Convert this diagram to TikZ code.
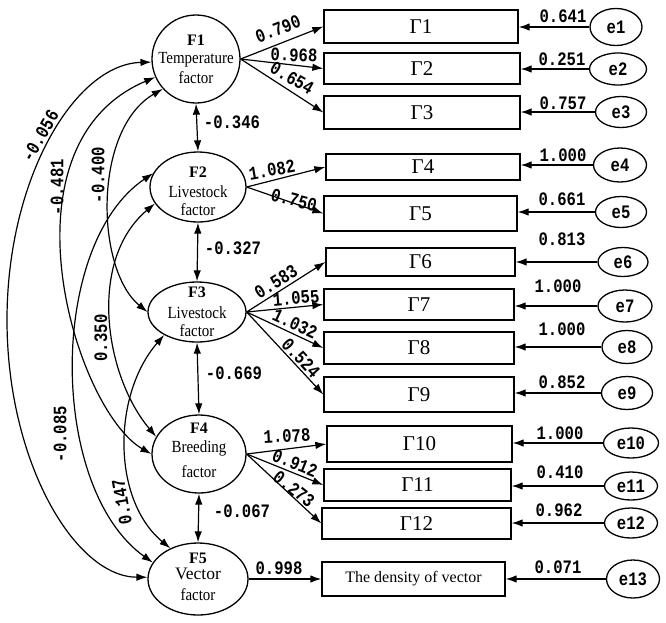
\documentclass[tikz,border=0pt]{standalone}
\usepackage{fontspec}
\setmainfont{Liberation Serif}
\newfontfamily\numfont{Liberation Mono}[FakeStretch=0.82]
\newfontfamily\condserif{Liberation Serif}[FakeStretch=0.88]
\usetikzlibrary{shapes.geometric,arrows.meta}
\begin{document}
\begin{tikzpicture}[x=1pt,y=-1pt,
  lw/.style={line width=1.3pt},
  fac/.style={draw,ellipse,lw,inner sep=0pt},
  ftxt/.style={inner sep=0pt,font=\condserif\fontsize{17}{19}\selectfont},
  fhead/.style={inner sep=0pt,font=\bfseries\fontsize{16}{18}\selectfont},
  ind/.style={draw,rectangle,lw,inner sep=0pt,font=\fontsize{21}{24}\selectfont},
  err/.style={draw,ellipse,lw,inner sep=0pt,font=\numfont\bfseries\fontsize{19}{20}\selectfont},
  num/.style={inner sep=0pt,font=\numfont\bfseries\fontsize{19}{20}\selectfont},
  arr/.style={line width=1.2pt,-{Latex[length=11pt,width=7.5pt]}},
  darr/.style={line width=1.2pt,{Latex[length=11pt,width=7.5pt]}-{Latex[length=11pt,width=7.5pt]}},
]
\useasboundingbox (0,0) rectangle (666,622);

% factors
\node[fac,minimum width=88pt,minimum height=88pt] (F1) at (196,59) {};
\node[fac,minimum width=96pt,minimum height=70pt] (F2) at (198,187) {};
\node[fac,minimum width=98pt,minimum height=60pt] (F3) at (197,312) {};
\node[fac,minimum width=94pt,minimum height=78pt] (F4) at (199,454) {};
\node[fac,minimum width=100pt,minimum height=72pt] (F5) at (198,579) {};

\node[fhead] (F1a) at (196,40) {F1};
\node[ftxt] (F1b) at (196,60) {Temperature};
\node[ftxt] (F1c) at (196,78) {factor};
\node[fhead] (F2a) at (198,172) {F2};
\node[ftxt] (F2b) at (198,192) {Livestock};
\node[ftxt] (F2c) at (198,210) {factor};
\node[fhead] (F3a) at (197,292) {F3};
\node[ftxt] (F3b) at (197,313) {Livestock};
\node[ftxt] (F3c) at (197,331) {factor};
\node[fhead] (F4a) at (199,428) {F4};
\node[ftxt] (F4b) at (199,448) {Breeding};
\node[ftxt] (F4c) at (199,472) {factor};
\node[fhead] (F5a) at (198,558) {F5};
\node[inner sep=0pt,font=\fontsize{17.5}{19}\selectfont] (F5b) at (198,574) {Vector};
\node[ftxt] (F5c) at (198,595) {factor};

% indicators
\node[ind,minimum width=194pt,minimum height=33pt] (G1) at (421,26.5) {Γ1};
\node[ind,minimum width=196pt,minimum height=31pt] (G2) at (422,68.5) {Γ2};
\node[ind,minimum width=196pt,minimum height=33pt] (G3) at (422,112.5) {Γ3};
\node[ind,minimum width=194pt,minimum height=26pt] (G4) at (423,167) {Γ4};
\node[ind,minimum width=193pt,minimum height=35pt] (G5) at (420.5,213.5) {Γ5};
\node[ind,minimum width=189pt,minimum height=28pt] (G6) at (420.5,262) {Γ6};
\node[ind,minimum width=190pt,minimum height=31pt] (G7) at (419,304.5) {Γ7};
\node[ind,minimum width=190pt,minimum height=32pt] (G8) at (419,348) {Γ8};
\node[ind,minimum width=190pt,minimum height=35pt] (G9) at (419,394.5) {Γ9};
\node[ind,minimum width=185pt,minimum height=36pt] (G10) at (419.5,444) {Γ10};
\node[ind,minimum width=187pt,minimum height=32pt] (G11) at (417.5,485) {Γ11};
\node[ind,minimum width=189pt,minimum height=31pt] (G12) at (416.5,523.5) {Γ12};
\node[ind,minimum width=183pt,minimum height=34pt,font=\fontsize{16}{18}\selectfont] (G13) at (413.5,579) {The density of vector};

% errors
\node[err,minimum width=52pt,minimum height=37pt] (e1) at (616,27) {e1};
\node[err,minimum width=57pt,minimum height=32pt] (e2) at (618,69) {e2};
\node[err,minimum width=51pt,minimum height=31pt] (e3) at (621,112) {e3};
\node[err,minimum width=53pt,minimum height=34pt] (e4) at (620,165) {e4};
\node[err,minimum width=51pt,minimum height=31pt] (e5) at (621,212) {e5};
\node[err,minimum width=50pt,minimum height=29pt] (e6) at (623,262) {e6};
\node[err,minimum width=54pt,minimum height=32pt] (e7) at (625,306) {e7};
\node[err,minimum width=50pt,minimum height=33pt] (e8) at (627,347) {e8};
\node[err,minimum width=51pt,minimum height=33pt] (e9) at (627,393) {e9};
\node[err,minimum width=55pt,minimum height=30pt] (e10) at (631,443) {e10};
\node[err,minimum width=53pt,minimum height=28pt] (e11) at (631,486) {e11};
\node[err,minimum width=53pt,minimum height=30pt] (e12) at (631,523) {e12};
\node[err,minimum width=53pt,minimum height=38pt] (e13) at (633,579) {e13};

% error arrows
\foreach \i in {1,...,13}{
  \draw[arr] (e\i.west) -- (e\i.west -| G\i.east);
}

% loadings
\draw[arr] (F1.east) -- (G1.west);
\draw[arr] (F1.east) -- (G2.west);
\draw[arr] (F1.east) -- (G3.west);
\draw[arr] (F2.east) -- (G4.west);
\draw[arr] (F2.east) -- (G5.west);
\draw[arr] (F3.east) -- (G6.west);
\draw[arr] (F3.east) -- (G7.west);
\draw[arr] (F3.east) -- (G8.west);
\draw[arr] (F3.east) -- (G9.west);
\draw[arr] (F4.east) -- (G10.west);
\draw[arr] (F4.east) -- (G11.west);
\draw[arr] (F4.east) -- (G12.west);
\draw[arr] (F5.east) -- (G13.west);

% vertical covariances
\draw[darr] (F1.south) -- (F2.north);
\draw[darr] (F2.south) -- (F3.north);
\draw[darr] (F3.south) -- (F4.north);
\draw[darr] (F4.south) -- (F5.north);

% curved covariances
\coordinate (A1) at (7,320);
\draw[darr] (F1.184) .. controls (75,64) and (7,178) .. (A1)
                     .. controls (7,462) and (75,577) .. (F5.178);
\draw[darr] (F1.204) .. controls (-5,145) and (75,410) .. (F4.180);
\draw[darr] (F1.222) .. controls (92.6,129.5) and (95.5,269.3) .. (F3.180);
\draw[darr] (F2.201) .. controls (87.4,260.3) and (104.6,375.7) .. (F4.158);
\draw[darr] (F2.163) .. controls (48,244) and (48.3,488) .. (F5.160);
\draw[darr] (F3.215) .. controls (112,395) and (112,500) .. (F5.132);

% labels: error variances
\node[num] (v1) at (563,16) {0.641};
\node[num] (v2) at (562,59) {0.251};
\node[num] (v3) at (563,103) {0.757};
\node[num] (v4) at (563,155) {1.000};
\node[num] (v5) at (562,199) {0.661};
\node[num] (v6) at (562,239) {0.813};
\node[num] (v7) at (558,286) {1.000};
\node[num] (v8) at (562,329) {1.000};
\node[num] (v9) at (562,382) {0.852};
\node[num] (v10) at (560,433) {1.000};
\node[num] (v11) at (560,472) {0.410};
\node[num] (v12) at (559,510) {0.962};
\node[num] (v13) at (558,567) {0.071};

% labels: loadings
\node[num,rotate=21] (w1) at (278,29) {0.790};
\node[num,rotate=-2] (w2) at (294,55) {0.968};
\node[num,rotate=-30] (w3) at (292,78) {0.654};
\node[num,rotate=10] (w4) at (272,170) {1.082};
\node[num,rotate=-15] (w5) at (294,200) {0.750};
\node[num,rotate=32] (w6) at (276,282) {0.583};
\node[num,rotate=5] (w7) at (296,298) {1.055};
\node[num,rotate=-25] (w8) at (295,324) {1.032};
\node[num,rotate=-47] (w9) at (301,358) {0.524};
\node[num,rotate=3] (w10) at (287,436) {1.078};
\node[num,rotate=-22] (w11) at (295,463) {0.912};
\node[num,rotate=-38] (w12) at (294,489) {0.273};
\node[num] (w13) at (279,568) {0.998};

% labels: covariances
\node[num] (c12) at (232,122) {-0.346};
\node[num] (c23) at (233,248) {-0.327};
\node[num] (c34) at (234,373) {-0.669};
\node[num] (c45) at (242,511) {-0.067};
\node[num,rotate=60] (c15) at (40,136) {-0.056};
\node[num,rotate=90] (c14) at (57,187) {-0.481};
\node[num,rotate=90] (c13) at (98,175) {-0.400};
\node[num,rotate=90] (c24) at (101,338) {0.350};
\node[num,rotate=90] (c25) at (60,434) {-0.085};
\node[num,rotate=100] (c35) at (122,502) {0.147};
\end{tikzpicture}
\end{document}
